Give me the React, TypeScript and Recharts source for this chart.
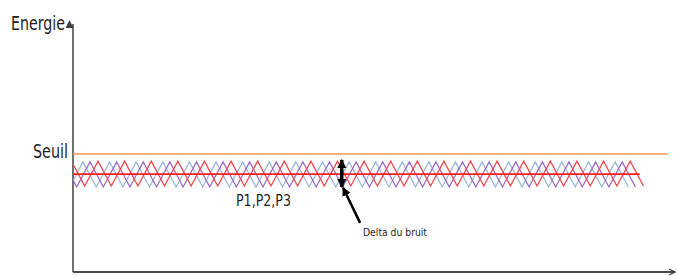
import React from "react";
import {
  ComposedChart,
  Line,
  XAxis,
  YAxis,
  ReferenceLine,
} from "recharts";

// half-period steps of the noise zigzag (x in time units)
const halfSteps = [
  -1, 0, 1, 2, 3, 4, 5, 6, 7, 8, 9, 10, 11, 12, 13, 14, 15, 16, 17, 18, 19, 20,
  21, 22, 23, 24, 25, 26, 27, 28, 29, 30, 31, 32, 33, 34, 35, 36, 37, 38, 39, 40,
  41, 42,
];

const p1Levels = [
  3.43, 4.44, 3.43, 4.44, 3.43, 4.44, 3.43, 4.44, 3.43, 4.44, 3.43, 4.44, 3.43,
  4.44, 3.43, 4.44, 3.43, 4.44, 3.43, 4.44, 3.43, 4.44, 3.43, 4.44, 3.43, 4.44,
  3.43, 4.44, 3.43, 4.44, 3.43, 4.44, 3.43, 4.44, 3.43, 4.44, 3.43, 4.44, 3.43,
  4.44, 3.43, 4.44, 3.43,
];
const p2Levels = [
  4.44, 3.43, 4.44, 3.43, 4.44, 3.43, 4.44, 3.43, 4.44, 3.43, 4.44, 3.43, 4.44,
  3.43, 4.44, 3.43, 4.44, 3.43, 4.44, 3.43, 4.44, 3.43, 4.44, 3.43, 4.44, 3.43,
  4.44, 3.43, 4.44, 3.43, 4.44, 3.43, 4.44, 3.43, 4.44, 3.43, 4.44, 3.43, 4.44,
  3.43, 4.44, 3.43, 4.44, 3.43,
];
const p3Levels = [
  4.47, 3.47, 4.47, 3.47, 4.47, 3.47, 4.47, 3.47, 4.47, 3.47, 4.47, 3.47, 4.47,
  3.47, 4.47, 3.47, 4.47, 3.47, 4.47, 3.47, 4.47, 3.47, 4.47, 3.47, 4.47, 3.47,
  4.47, 3.47, 4.47, 3.47, 4.47, 3.47, 4.47, 3.47, 4.47, 3.47, 4.47, 3.47, 4.47,
  3.47, 4.47, 3.47, 4.47, 3.47,
];

const seuil = 4.76;
const meanNoise = 3.95;
const deltaX = 20.2;
const xMax = 45.25;
const yMax = 10;

const series = [
  { key: "p1", levels: p1Levels, phase: 0.75, color: "#9bb7da" },
  { key: "p2", levels: p2Levels, phase: 0.28, color: "#9a6cc4" },
  { key: "p3", levels: p3Levels, phase: 0.88, color: "#f0474d" },
];

const font = "'Liberation Sans Narrow', 'DejaVu Sans Condensed', sans-serif";

const arrowLine =
  (
    start: string | undefined,
    end: string | undefined,
    width: number,
    color = "#000"
  ) =>
  (props: any) => (
    <line
      x1={props.x1}
      y1={props.y1}
      x2={props.x2}
      y2={props.y2}
      stroke={color}
      strokeWidth={width}
      markerStart={start}
      markerEnd={end}
    />
  );

export default function App() {
  return (
    <div style={{ position: "absolute", left: 0, top: 0, background: "#fff" }}>
      <ComposedChart
        width={678}
        height={276}
        margin={{ top: 24, right: 3, bottom: 4, left: 73 }}
      >
        <defs>
          <marker
            id="axisUp"
            markerWidth="8"
            markerHeight="9"
            refX="4"
            refY="8"
            orient="auto"
            markerUnits="userSpaceOnUse"
            viewBox="0 0 8 9"
          >
            <path d="M0,0 L8,4 L0,8 Z" fill="#404040" transform="translate(0 0.5)" />
          </marker>
          <marker
            id="axisRight"
            markerWidth="8"
            markerHeight="8"
            refX="7"
            refY="4"
            orient="auto"
            markerUnits="userSpaceOnUse"
            viewBox="0 0 8 8"
          >
            <path d="M1,1 L7,4 L1,7" fill="none" stroke="#404040" strokeWidth="1.2" />
          </marker>
          <marker
            id="blackHead"
            markerWidth="9"
            markerHeight="9"
            refX="8"
            refY="4.5"
            orient="auto-start-reverse"
            markerUnits="userSpaceOnUse"
            viewBox="0 0 9 9"
          >
            <path d="M0,0 L9,4.5 L0,9 Z" fill="#000" />
          </marker>
        </defs>
        <XAxis
          type="number"
          dataKey="x"
          domain={[0, xMax]}
          allowDataOverflow
          hide
        />
        <YAxis type="number" domain={[0, yMax]} allowDataOverflow hide />
        {/* axes with arrowheads */}
        <ReferenceLine
          segment={[
            { x: 0, y: 0 },
            { x: xMax, y: 0 },
          ]}
          ifOverflow="visible"
          shape={arrowLine(undefined, "url(#axisRight)", 2, "#4a4a4a")}
        />
        <ReferenceLine
          segment={[
            { x: 0, y: 0 },
            { x: 0, y: yMax },
          ]}
          ifOverflow="visible"
          shape={arrowLine(undefined, "url(#axisUp)", 1.5, "#404040")}
        />
        <ReferenceLine
          segment={[
            { x: 0, y: seuil },
            { x: 44.7, y: seuil },
          ]}
          stroke="#f79646"
          strokeWidth={1.5}
          ifOverflow="visible"
        />
        {series.map((s) => (
          <Line
            key={s.key}
            data={s.levels.map((v, i) => ({ x: halfSteps[i] + s.phase, e: v }))}
            dataKey="e"
            type="linear"
            stroke={s.color}
            strokeWidth={1.3}
            dot={false}
            activeDot={false}
            isAnimationActive={false}
          />
        ))}
        <ReferenceLine
          segment={[
            { x: 0, y: meanNoise },
            { x: 42.6, y: meanNoise },
          ]}
          stroke="#ff1f1f"
          strokeWidth={1.8}
          ifOverflow="visible"
        />
        <ReferenceLine
          segment={[
            { x: deltaX, y: 4.52 },
            { x: deltaX, y: 3.43 },
          ]}
          ifOverflow="visible"
          shape={arrowLine("url(#blackHead)", "url(#blackHead)", 3.5)}
        />
        <ReferenceLine
          segment={[
            { x: 21.58, y: 1.98 },
            { x: 20.3, y: 3.4 },
          ]}
          ifOverflow="visible"
          shape={arrowLine(undefined, "url(#blackHead)", 2.5)}
        />
        <text
          x={11}
          y={30}
          fontFamily={font}
          fontSize={20}
          textLength={54}
          lengthAdjust="spacingAndGlyphs"
          fill="#1e1e1e"
        >
          Energie
        </text>
        <text
          x={33}
          y={158}
          fontFamily={font}
          fontSize={20}
          textLength={35}
          lengthAdjust="spacingAndGlyphs"
          fill="#1e1e1e"
        >
          Seuil
        </text>
        <text
          x={236}
          y={206}
          fontFamily={font}
          fontSize={16}
          textLength={55}
          lengthAdjust="spacingAndGlyphs"
          fill="#1e1e1e"
        >
          P1,P2,P3
        </text>
        <text
          x={363}
          y={236}
          fontFamily={font}
          fontSize={11}
          textLength={64}
          lengthAdjust="spacingAndGlyphs"
          fill="#1e1e1e"
        >
          Delta du bruit
        </text>
      </ComposedChart>
    </div>
  );
}
